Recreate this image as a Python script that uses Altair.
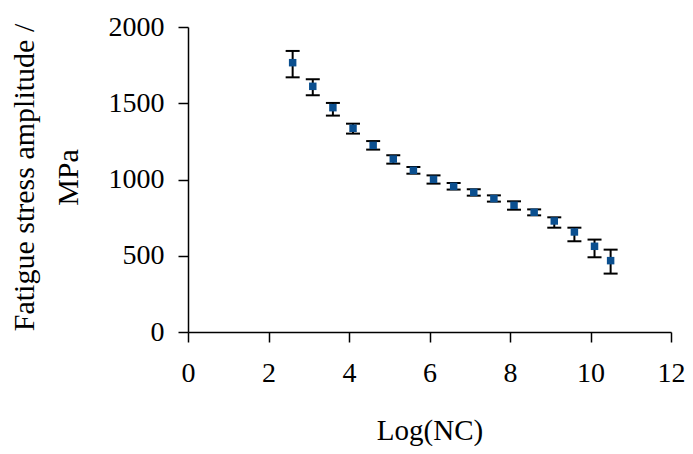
import altair as alt
import pandas as pd

log_nc = [2.6, 3.1, 3.6, 4.1, 4.6, 5.1, 5.6, 6.1, 6.6, 7.1, 7.6, 8.1, 8.6, 9.1, 9.6, 10.1, 10.5]
stress = [1766, 1611, 1471, 1336, 1224, 1134, 1060, 1001, 955, 916, 875, 831, 785, 728, 656, 562, 468]
err_hi = [1843, 1657, 1502, 1366, 1252, 1159, 1082, 1027, 977, 936, 896, 857, 804, 752, 684, 606, 540]
err_lo = [1670, 1552, 1419, 1301, 1196, 1104, 1038, 973, 934, 894, 855, 802, 765, 684, 595, 490, 383]

x_ticks = [0, 2, 4, 6, 8, 10, 12]
y_ticks = [0, 500, 1000, 1500, 2000]

df = pd.DataFrame({"x": log_nc, "y": stress, "hi": err_hi, "lo": err_lo})

FONT = "Liberation Serif"

xscale = alt.Scale(domain=[0, 12], nice=False, zero=False)
yscale = alt.Scale(domain=[0, 2000], nice=False)

xaxis = alt.Axis(
    values=x_ticks, grid=False, title="Log(NC)", format="d", labelFlush=False,
    titleY=107, titleBaseline="alphabetic", titleFontSize=29,
    labelFontSize=28, labelPadding=17, tickSize=10,
)
yaxis = alt.Axis(
    values=y_ticks, grid=False, title=["Fatigue stress amplitude /", "MPa"], format="d",
    labelFlush=False,
    titleAngle=270, titleX=-155, titleY=150, titleAlign="center",
    titleBaseline="alphabetic", titleLineHeight=44, titleFontSize=30,
    labelFontSize=28, labelPadding=14, tickSize=10,
)

base = alt.Chart(df)

rules = base.mark_rule(color="black", strokeWidth=2).encode(
    x=alt.X("x:Q", scale=xscale, axis=xaxis),
    y=alt.Y("lo:Q", scale=yscale, axis=yaxis),
    y2="hi:Q",
)
caps_hi = base.mark_tick(color="black", orient="horizontal", size=14, thickness=2, opacity=1).encode(
    x=alt.X("x:Q", scale=xscale), y=alt.Y("hi:Q", scale=yscale)
)
caps_lo = base.mark_tick(color="black", orient="horizontal", size=14, thickness=2, opacity=1).encode(
    x=alt.X("x:Q", scale=xscale), y=alt.Y("lo:Q", scale=yscale)
)
points = base.mark_square(color="#0B4F8F", size=56, opacity=1).encode(
    x=alt.X("x:Q", scale=xscale), y=alt.Y("y:Q", scale=yscale)
)

chart = (
    alt.layer(rules, caps_hi, caps_lo, points)
    .properties(
        width=483, height=305,
        autosize=alt.AutoSizeParams(type="none"),
        padding={"left": 180, "top": 19, "right": 14, "bottom": 114},
    )
    .configure_view(stroke=None)
    .configure_axis(
        labelFont=FONT, titleFont=FONT, labelColor="black", titleColor="black",
        titleFontWeight="normal", domainColor="black", tickColor="black",
        domainWidth=1.5, tickWidth=1.5,
    )
)

chart.save("out.html", embed_options={"renderer": "svg", "actions": False})
